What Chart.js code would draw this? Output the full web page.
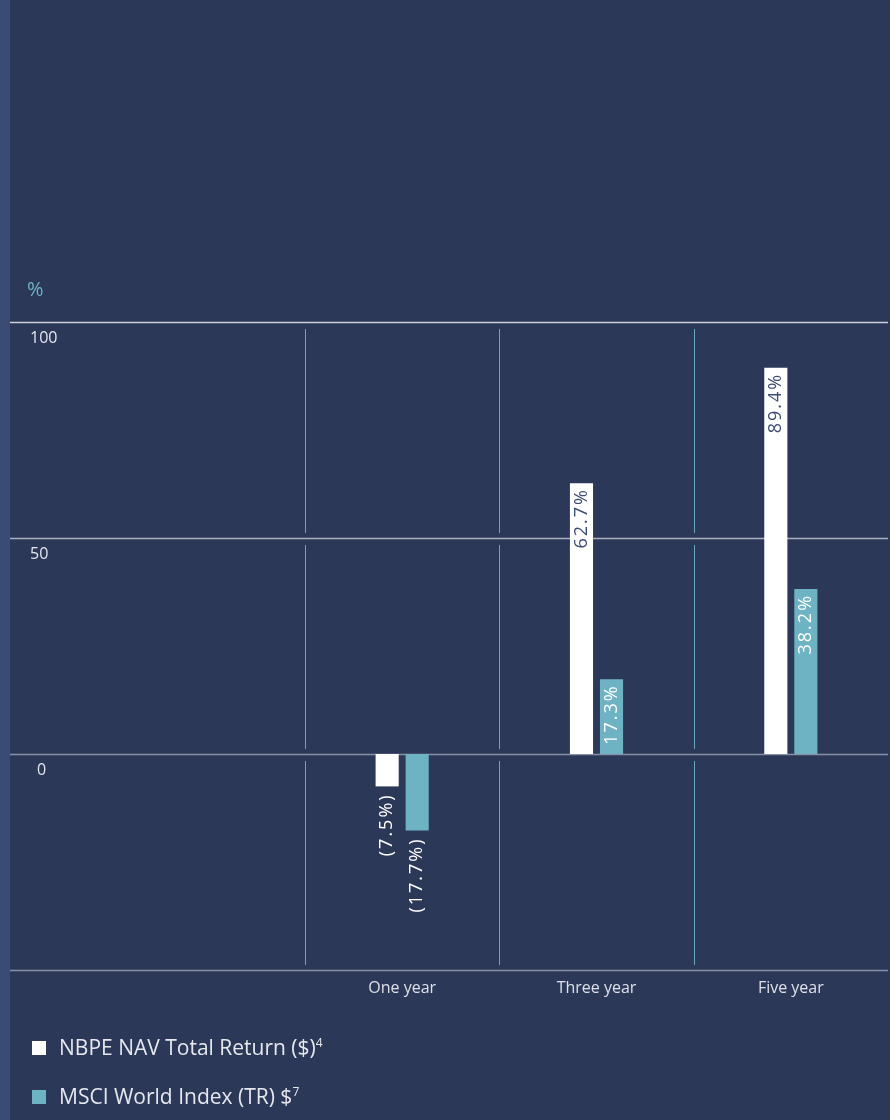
<!DOCTYPE html>
<html lang="en">

<head>
  <meta charset="UTF-8">
  <title>NBPE vs MSCI World returns</title>
  <style>
    body {
      margin: 0;
      background: #2b3858;
      font-family: "Open Sans", Arial, sans-serif;
    }

    #wrap {
      position: relative;
      width: 890px;
      height: 1120px;
      overflow: hidden;
    }

    #strip {
      position: absolute;
      left: 0;
      top: 0;
      width: 10px;
      height: 1120px;
      background: #3a4b74;
    }

    #unit {
      position: absolute;
      left: 27px;
      top: 275px;
      color: #6eb3c4;
      font-size: 20px;
    }

    .legend {
      position: absolute;
      left: 32px;
      color: #e6e8ee;
      font-size: 21px;
      line-height: 24px;
    }

    .legend span.box {
      display: inline-block;
      width: 14px;
      height: 14px;
      margin-right: 13px;
      vertical-align: 0px;
    }

    .legend sup {
      font-size: 12px;
      vertical-align: 8px;
      line-height: 0;
    }
  </style>
</head>

<body>
  <div id="wrap">
    <canvas id="chart" width="890" height="1120"></canvas>
    <div id="strip"></div>
    <div id="unit">%</div>
    <div class="legend" style="top:1035px"><span class="box" style="background:#ffffff"></span>NBPE NAV Total Return ($)<sup>4</sup></div>
    <div class="legend" style="top:1084px"><span class="box" style="background:#6eb3c4"></span>MSCI World Index (TR) $<sup>7</sup></div>
  </div>

  <script src="https://cdn.jsdelivr.net/npm/chart.js"></script>
  <script>
    const categories = ['One year', 'Three year', 'Five year'];
    const nbpeValues = [-7.5, 62.7, 89.4];
    const msciValues = [-17.7, 17.3, 38.2];
    const yTicks = [100, 50, 0, -50];

    const fmt = v => v < 0 ? `(${Math.abs(v).toFixed(1)}%)` : `${v.toFixed(1)}%`;

    // gridlines across the full width, tick labels under the lines, broken column dividers
    const gridPlugin = {
      id: 'grid',
      beforeDatasetsDraw(chart) {
        const { ctx, scales: { x, y } } = chart;
        const lineColors = ['#cdd0da', '#aab0c0', '#8890a6', '#8890a6'];
        ctx.save();
        yTicks.forEach((t, i) => {
          const py = Math.round(y.getPixelForValue(t)) + 0.5;
          ctx.strokeStyle = lineColors[i];
          ctx.lineWidth = 1.3;
          ctx.beginPath();
          ctx.moveTo(10, py);
          ctx.lineTo(888, py);
          ctx.stroke();
          if (t > -50) {
            ctx.fillStyle = '#e3e6ee';
            ctx.font = '16px "Open Sans", Arial, sans-serif';
            ctx.textAlign = 'left';
            ctx.textBaseline = 'middle';
            ctx.fillText(String(t), t === 0 ? 37 : 30, py + 16);
          }
        });
        const w = x.getPixelForValue(1) - x.getPixelForValue(0);
        ctx.strokeStyle = '#6aa6bf';
        ctx.lineWidth = 1;
        categories.forEach((c, i) => {
          const px = Math.round(x.getPixelForValue(i) - w / 2) + 0.5;
          for (let k = 0; k < yTicks.length - 1; k++) {
            const y0 = y.getPixelForValue(yTicks[k]) + 7;
            const y1 = y.getPixelForValue(yTicks[k + 1]) - 5;
            ctx.beginPath();
            ctx.moveTo(px, y0);
            ctx.lineTo(px, y1);
            ctx.stroke();
          }
        });
        ctx.fillStyle = '#dde0e8';
        ctx.font = '16px "Open Sans", Arial, sans-serif';
        ctx.textAlign = 'center';
        ctx.textBaseline = 'middle';
        categories.forEach((c, i) => {
          ctx.fillText(c, x.getPixelForValue(i), y.bottom + 18);
        });
        ctx.restore();
      },
      afterDatasetsDraw(chart) {
        const { ctx } = chart;
        const textColors = ['#3d4c72', '#ffffff'];
        ctx.save();
        ctx.font = '18px "Open Sans", Arial, sans-serif';
        ctx.letterSpacing = '2px';
        ctx.textAlign = 'right';
        ctx.textBaseline = 'middle';
        chart.data.datasets.forEach((ds, di) => {
          chart.getDatasetMeta(di).data.forEach((bar, i) => {
            const v = ds.data[i];
            let py, color;
            if (v >= 0) {
              py = bar.y + 5;
              color = textColors[di];
            } else {
              py = bar.y + 7;
              color = '#ffffff';
            }
            ctx.save();
            ctx.translate(bar.x, py);
            ctx.rotate(-Math.PI / 2);
            ctx.fillStyle = color;
            ctx.fillText(fmt(v), 0, 0);
            ctx.restore();
          });
        });
        ctx.restore();
      }
    };

    new Chart(document.getElementById('chart'), {
      type: 'bar',
      data: {
        labels: categories,
        datasets: [{
          label: 'NBPE NAV Total Return ($)',
          data: nbpeValues,
          backgroundColor: '#ffffff'
        }, {
          label: 'MSCI World Index (TR) $',
          data: msciValues,
          backgroundColor: '#6eb3c4'
        }]
      },
      options: {
        responsive: false,
        animation: false,
        events: [],
        layout: { padding: { left: 305, right: 2, top: 322, bottom: 150 } },
        datasets: { bar: { categoryPercentage: 0.309, barPercentage: 0.77 } },
        plugins: {
          legend: { display: false },
          tooltip: { enabled: false }
        },
        scales: {
          x: { display: false },
          y: { display: false, min: -50, max: 100 }
        }
      },
      plugins: [gridPlugin]
    });
  </script>
</body>

</html>
